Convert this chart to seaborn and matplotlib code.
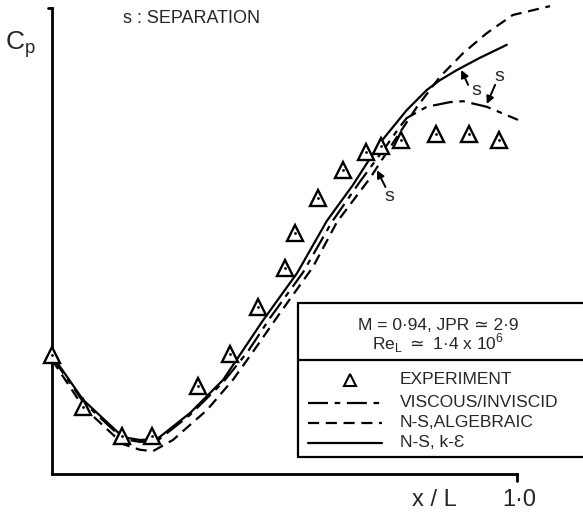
import numpy as np
import pandas as pd
import matplotlib
matplotlib.use("Agg")
import matplotlib.pyplot as plt
import seaborn as sns

sns.set_theme(style="white")
plt.rcParams['font.family'] = ['Liberation Sans', 'DejaVu Sans']

# ---- data (x/L, Cp in normalised axis units) ----
exp_x = [0.0, 0.067, 0.151, 0.215, 0.314, 0.383, 0.443, 0.501, 0.523, 0.572,
         0.626, 0.675, 0.708, 0.751, 0.826, 0.897, 0.961]
exp_cp = [0.255, 0.144, 0.082, 0.082, 0.189, 0.258, 0.358, 0.442, 0.517, 0.592,
          0.652, 0.691, 0.704, 0.717, 0.730, 0.730, 0.717]

# N-S, k-epsilon (solid)
ke_x = [0.0, 0.067, 0.153, 0.189, 0.226, 0.297, 0.368, 0.411, 0.454, 0.527,
        0.591, 0.647, 0.705, 0.763, 0.806, 0.834, 0.871, 0.920, 0.978]
ke_cp = [0.255, 0.159, 0.079, 0.073, 0.075, 0.131, 0.202, 0.266, 0.330, 0.431,
         0.543, 0.620, 0.710, 0.781, 0.824, 0.845, 0.867, 0.893, 0.921]

# N-S, algebraic (dashed)
alg_x = [0.0, 0.067, 0.153, 0.189, 0.217, 0.260, 0.333, 0.389, 0.432, 0.490,
         0.561, 0.613, 0.684, 0.733, 0.785, 0.834, 0.884, 0.935, 0.991, 1.071]
alg_cp = [0.245, 0.144, 0.064, 0.052, 0.049, 0.073, 0.137, 0.202, 0.262, 0.345,
          0.444, 0.541, 0.635, 0.710, 0.788, 0.852, 0.903, 0.946, 0.985, 1.004]

# viscous / inviscid (dash-dot)
vi_x = [0.0, 0.067, 0.153, 0.189, 0.226, 0.297, 0.368, 0.422, 0.469, 0.540,
        0.602, 0.662, 0.716, 0.748, 0.763, 0.806, 0.856, 0.884, 0.935, 1.002]
vi_cp = [0.251, 0.155, 0.075, 0.069, 0.071, 0.127, 0.197, 0.264, 0.335, 0.433,
         0.541, 0.627, 0.700, 0.745, 0.764, 0.788, 0.798, 0.800, 0.788, 0.760]

W, H = 583, 515
fig = plt.figure(figsize=(W / 100, H / 100), dpi=100)
ax = fig.add_axes([52 / W, (H - 474) / H, 465 / W, 466 / H])
ax.set_xlim(0, 1)
ax.set_ylim(0, 1)
ax.set_xticks([])
ax.set_yticks([])
for s in ['top', 'right']:
    ax.spines[s].set_visible(False)
for s in ['left', 'bottom']:
    ax.spines[s].set_linewidth(2.0)
    ax.spines[s].set_color('black')

lw = 1.6
DASHDOT = (0, (9, 3, 2.5, 3))
DASH = (0, (5, 3))
df_vi = pd.DataFrame({'x': vi_x, 'cp': vi_cp})
df_alg = pd.DataFrame({'x': alg_x, 'cp': alg_cp})
df_ke = pd.DataFrame({'x': ke_x, 'cp': ke_cp})
sns.lineplot(data=df_vi, x='x', y='cp', ax=ax, color='black', lw=lw,
             sort=False, estimator=None, clip_on=False)
ax.lines[-1].set_linestyle(DASHDOT)
sns.lineplot(data=df_alg, x='x', y='cp', ax=ax, color='black', lw=lw,
             sort=False, estimator=None, clip_on=False)
ax.lines[-1].set_linestyle(DASH)
sns.lineplot(data=df_ke, x='x', y='cp', ax=ax, color='black', lw=lw,
             sort=False, estimator=None, clip_on=False)
ax.plot(exp_x, exp_cp, ls='none', marker='^', ms=11, mfc='white', mec='black',
        mew=1.7, clip_on=False, zorder=5)
ax.plot(exp_x, exp_cp, ls='none', marker='.', ms=2, color='black',
        clip_on=False, zorder=6)
ax.set_xlabel('')
ax.set_ylabel('')

# axis end marks
ax.plot([-0.008, 0.0], [1.0, 1.0], color='black', lw=2, clip_on=False)
ax.plot([1.0, 1.0], [0.0, -0.015], color='black', lw=2, clip_on=False)

fs = 12.5
ax.text(-0.068, 0.922, 'C$_{\\mathregular{p}}$', fontsize=19, ha='center', va='center')
ax.text(0.153, 0.978, 's : SEPARATION', fontsize=13, ha='left', va='center')
ax.text(0.822, -0.056, 'x / L', fontsize=17, ha='center', va='center')
ax.text(1.004, -0.056, '1·0', fontsize=17, ha='center', va='center')

# separation markers: (tip, tail, label position)
arrow = dict(arrowstyle='-|>', color='black', lw=1.4, mutation_scale=11,
             shrinkA=0, shrinkB=0)
sep_marks = [((0.880, 0.867), (0.895, 0.835), (0.912, 0.822)),
             ((0.935, 0.794), (0.953, 0.835), (0.962, 0.852)),
             ((0.699, 0.652), (0.717, 0.616), (0.726, 0.595))]
for tip, tail, lab in sep_marks:
    ax.annotate('', xy=tip, xytext=tail, arrowprops=arrow, annotation_clip=False)
    ax.text(lab[0], lab[1], 's', fontsize=14, ha='center', va='center')

# legend box (drawn in axes data units)
xl, xr = 0.529, 1.15
y_top, y_mid, y_bot = 0.367, 0.245, 0.036
kw = dict(color='black', lw=1.6, clip_on=False)
ax.plot([xl, xr], [y_top, y_top], **kw)
ax.plot([xl, xr], [y_mid, y_mid], **kw)
ax.plot([xl, xr], [y_bot, y_bot], **kw)
ax.plot([xl, xl], [y_bot, y_top], **kw)
ax.text(0.83, 0.318, 'M = 0·94, JPR ≃ 2·9', fontsize=fs, ha='center', va='center')
ax.text(0.83, 0.280, 'Re$_{\\mathregular{L}}$ $\\simeq$ 1·4 x 10$^{\\mathregular{6}}$',
        fontsize=fs, ha='center', va='center')
tx = 0.748
rows = [0.202, 0.153, 0.110, 0.067]
labels = ['EXPERIMENT', 'VISCOUS/INVISCID', 'N-S,ALGEBRAIC', 'N-S, k-\u0190']
for yy, lab in zip(rows, labels):
    ax.text(tx, yy, lab, fontsize=fs, ha='left', va='center')
ax.plot([0.641], [rows[0]], ls='none', marker='^', ms=9, mfc='white', mec='black',
        mew=1.5, clip_on=False)
sx = [0.551, 0.710]
ax.plot(sx, [rows[1]] * 2, color='black', lw=lw, ls=DASHDOT, clip_on=False)
ax.plot(sx, [rows[2]] * 2, color='black', lw=lw, ls=DASH, clip_on=False)
ax.plot(sx, [rows[3]] * 2, color='black', lw=lw, clip_on=False)

fig.savefig('out.png', dpi=100)
